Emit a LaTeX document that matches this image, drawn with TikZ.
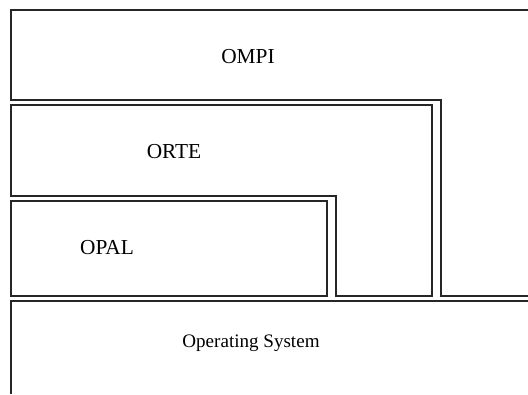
\documentclass[tikz,border=0pt]{standalone}
\usepackage{fontspec}
\setmainfont{Liberation Serif}

\tikzset{every picture/.style={line width=0.75pt}}
\tikzset{layerline/.style={draw=black!85,line width=0.9pt}}
\tikzset{biglabel/.style={font=\fontsize{16}{19}\selectfont}}
\tikzset{smalllabel/.style={font=\fontsize{14.3}{17}\selectfont}}

\begin{document}
\begin{tikzpicture}[x=0.75pt,y=0.75pt,yscale=-1,xscale=1]
\useasboundingbox (0,0) rectangle (528,394);

% OMPI
\draw [layerline]   (528,10) -- (11,10) -- (11,100) -- (441,100) -- (441,296) -- (528,296) ;
% ORTE
\draw [layerline]   (11,105) -- (432,105) -- (432,296) -- (336,296) -- (336,196) -- (11,196) -- cycle ;
% OPAL
\draw [layerline]   (11,201) -- (327,201) -- (327,296) -- (11,296) -- cycle ;
% Operating System
\draw [layerline]   (11,394) -- (11,301) -- (528,301) ;

% Text Node
\draw (248,57) node (ompi) [biglabel] {OMPI};
% Text Node
\draw (174,152) node (orte) [biglabel] {ORTE};
% Text Node
\draw (107,248) node (opal) [biglabel] {OPAL};
% Text Node
\draw (251,343) node (os) [smalllabel] {Operating System};

\end{tikzpicture}
\end{document}
